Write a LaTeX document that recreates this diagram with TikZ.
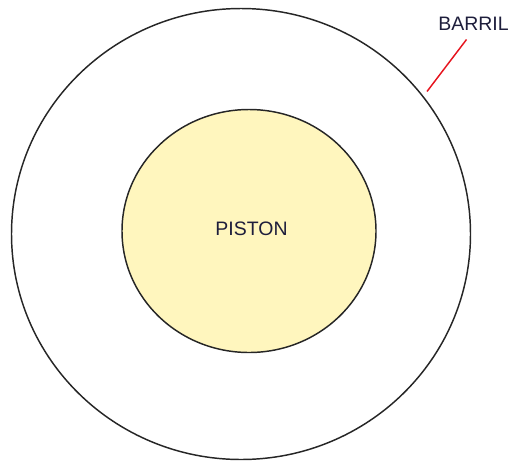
\documentclass[tikz,border=0pt]{standalone}
\usepackage{fontspec}
\setmainfont{Liberation Sans}
\usetikzlibrary{shapes.geometric}
\definecolor{pistonfill}{RGB}{255,246,190}
\definecolor{leader}{RGB}{230,20,30}
\definecolor{labeltext}{RGB}{30,30,60}
\tikzset{wall/.style={draw=black!85,line width=1.1pt}}
\tikzset{tag/.style={text=labeltext,font=\fontsize{14.6}{16}\selectfont,inner sep=0pt}}

\begin{document}
\begin{tikzpicture}[x=0.75pt,y=-0.75pt]
    \useasboundingbox (0,0) rectangle (513,461);
    % barrel and piston
    \draw [wall] (241,234) ellipse [x radius=229.5,y radius=225.5];
    \draw [wall,fill=pistonfill] (249,231) ellipse [x radius=127,y radius=121.5];
    \node [tag] (piston) at (251.5,229) {PISTON};
    \node [tag] (barril) at (473.5,24) {BARRIL};
    \coordinate (rim) at (427,91.5);
    \coordinate (tip) at (466.5,39.5);
    \draw [leader,line width=1.1pt] (tip) -- (rim);
\end{tikzpicture}
\end{document}
